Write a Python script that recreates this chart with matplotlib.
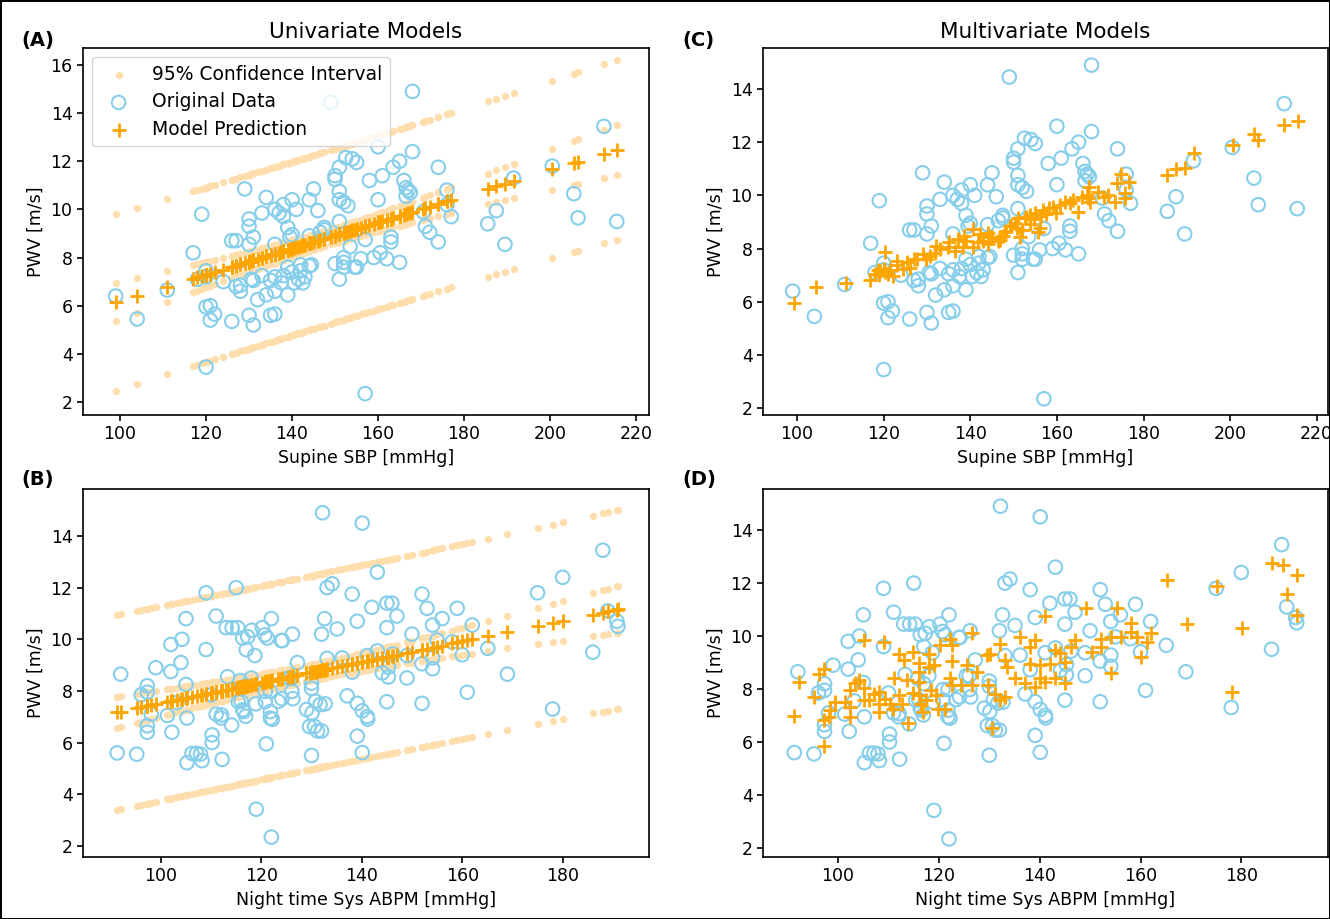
import numpy as np
import matplotlib
matplotlib.use('Agg')
import matplotlib.pyplot as plt

# Supine SBP [mmHg] and PWV [m/s] for each subject (top row)
sbp = [99, 104, 111, 117, 118, 119, 120, 120, 120, 121,
       122, 121, 126, 124, 127, 128, 130, 131, 131, 132,
       134, 135, 136, 136, 133, 135, 136, 137.5, 139, 138,
       140.5, 142.5, 143, 144, 142, 140, 139, 129, 134, 133,
       130, 130, 131, 130, 126, 127, 136, 137, 138, 138,
       140, 141, 139, 140, 136, 144, 145, 146, 144, 149,
       168, 160, 168, 152.5, 154, 155, 165, 163.5, 174, 151,
       150, 150, 158, 161, 166, 151, 166.5, 167, 167.5, 166.5,
       176, 160, 151, 152, 153, 176, 177, 170.5, 151, 147.5,
       146.5, 171, 172, 174, 163, 163, 157, 153.5, 152, 152,
       152, 150, 154.5, 156, 159, 160.5, 162, 165, 151, 157,
       185.5, 187.5, 189.5, 191.5, 200.5, 205.5, 206.5, 212.5, 215.5, 139.5,
       147.5, 155, 142, 141.5, 144.5, 130.5, 128, 120]
pwv_sbp = [6.4, 5.45, 6.65, 8.2, 7.1, 9.8, 3.45, 7.45, 5.95, 6.0,
           5.65, 5.4, 5.35, 7.0, 6.8, 6.6, 5.6, 5.2, 7.05, 6.25,
           6.45, 5.6, 5.65, 6.6, 7.25, 7.05, 7.2, 6.95, 6.45, 7.25,
           6.95, 6.95, 7.2, 7.65, 7.45, 7.4, 7.6, 10.85, 10.5, 9.85,
           9.6, 9.3, 8.85, 8.55, 8.7, 8.7, 10.0, 9.85, 10.2, 9.7,
           10.4, 10.0, 9.25, 8.95, 8.55, 10.4, 10.85, 9.95, 8.9, 14.45,
           14.9, 12.6, 12.4, 12.15, 12.1, 11.95, 12.0, 11.75, 11.75, 11.75,
           11.4, 11.25, 11.2, 11.4, 11.2, 10.75, 10.9, 10.8, 10.7, 10.55,
           10.8, 10.4, 10.4, 10.3, 10.15, 10.2, 9.7, 9.9, 9.5, 9.25,
           9.05, 9.3, 9.05, 8.65, 8.85, 8.65, 8.75, 8.45, 8.0, 7.8,
           7.6, 7.75, 7.6, 7.95, 8.0, 8.2, 7.95, 7.8, 7.1, 2.35,
           9.4, 9.95, 8.55, 11.3, 11.8, 10.65, 9.65, 13.45, 9.5, 8.85,
           9.15, 7.6, 7.7, 7.1, 7.7, 7.1, 6.85, 7.2]

# Multivariate model prediction plotted against supine SBP
mv_sbp = [99.3, 104.3, 111.2, 116.9, 120.2, 118, 119.2, 120.3, 121.1, 122.1,
          123, 123.2, 124.5, 125.3, 126.1, 126.9, 127.7, 129.2, 129.7, 130.7,
          131.9, 132.2, 133, 134.9, 135.2, 136.4, 137.2, 138.3, 138.5, 139.1,
          140.6, 140.7, 141.8, 142.2, 143, 144.2, 144.2, 144.9, 145, 146.4,
          146.9, 147.6, 148, 148.3, 149.2, 149.5, 150.3, 150.7, 151.1, 151.4,
          151.9, 152.7, 152.9, 153.7, 153.8, 154.8, 155, 155.6, 156.1, 156.4,
          156.9, 157.6, 158.1, 159.2, 159.9, 160.7, 161.9, 163, 163.8, 164.8,
          165.8, 166.9, 167.3, 167.5, 167.7, 169.6, 170.8, 171.9, 173.4, 173.8,
          174.7, 175.7, 175.7, 176.7, 185.5, 187.6, 189.5, 191.6, 200.6, 205.6,
          206.5, 212.5, 215.6, 120, 121.5, 119, 118.6]
mv_sbp_pred = [5.95, 6.55, 6.7, 6.82, 7.88, 7.04, 7.16, 7.1, 7.04, 6.98,
               7.4, 7.55, 7.22, 7.49, 7.28, 7.61, 7.6, 7.8, 7.6, 7.73,
               7.85, 8.1, 7.98, 8.04, 8.23, 7.92, 8.35, 8.04, 8.49, 8.29,
               8.74, 8.04, 8.23, 8.56, 8.29, 8.6, 8.17, 8.42, 8.45, 8.29,
               8.33, 8.48, 8.64, 8.67, 8.83, 8.86, 8.98, 8.79, 9.14, 8.42,
               8.7, 9.14, 9.17, 8.92, 9.26, 9.11, 9.33, 8.61, 8.77, 9.24,
               9.45, 9.3, 9.51, 9.57, 9.33, 9.64, 9.76, 9.7, 9.82, 9.39,
               9.95, 10.01, 9.89, 10.33, 9.76, 10.14, 9.95, 10.01, 9.76, 10.45,
               10.8, 10.08, 9.89, 10.51, 10.76, 11.01, 11.04, 11.6, 11.9, 12.3,
               12.1, 12.65, 12.8, 7.25, 7.2, 7.0, 7.2]

# Night time systolic ABPM [mmHg] and PWV [m/s] (bottom row)
abpm = [91.3, 95.2, 92, 97.3, 97.3, 96.1, 99, 98.1, 97.3, 97.3,
        102, 102, 104.2, 104, 105, 109, 115, 111, 113, 114.2,
        115.3, 116.3, 117.3, 118.1, 120.2, 122, 121.2, 126.2, 124.2, 109,
        105, 103.2, 101.3, 102.2, 105.2, 110, 111, 112, 110.2, 110.2,
        105.2, 106.2, 107.1, 107.9, 108.2, 112.2, 113.3, 116, 116.3, 116.9,
        121, 119, 122, 122.2, 124.1, 126.3, 126, 127.2, 130.1, 131.2,
        132, 130, 132, 132.6, 132.2, 140.1, 143.1, 133.1, 134.1, 138.1,
        142, 145, 146, 147, 152, 153, 156, 159, 162, 165.1,
        169, 139.1, 135.1, 145, 150, 154.1, 155, 158, 160, 141.1,
        136.1, 133.1, 143.1, 146.2, 149, 154.1, 154.1, 152, 144.1, 145.3,
        145.3, 138.1, 149, 137.1, 139.1, 140.1, 141.1, 141.2, 145, 152,
        161, 139.1, 140.1, 188, 180, 175, 189, 191, 190.8, 186,
        178, 129.6, 130.6, 129, 130, 130, 130.8, 131.7, 132.7, 114.1,
        112.1, 115.4, 116.5, 118.9, 120.8, 120.8, 121.8, 125.4, 126.1, 121.8,
        121.8, 123.4, 117, 118.7, 120.7, 124, 115.8, 117, 118]
pwv_abpm = [5.6, 5.55, 8.65, 8.2, 7.95, 7.85, 8.9, 7.1, 6.65, 6.4,
            8.75, 9.8, 10.0, 9.1, 10.8, 11.8, 12.0, 10.9, 10.45, 10.45,
            10.45, 10.05, 10.1, 10.35, 10.45, 10.8, 10.05, 10.2, 9.95, 9.6,
            8.25, 7.55, 7.05, 6.4, 6.95, 7.85, 7.1, 6.95, 6.3, 6.0,
            5.22, 5.58, 5.58, 5.55, 5.3, 5.35, 8.55, 7.6, 7.27, 7.02,
            5.95, 3.42, 2.34, 6.9, 7.7, 7.7, 8.5, 9.1, 7.15, 6.45,
            6.45, 5.5, 10.2, 10.8, 14.9, 14.5, 12.6, 12.0, 12.15, 11.75,
            11.24, 11.4, 11.4, 10.9, 11.75, 11.2, 10.8, 11.2, 10.55, 9.65,
            8.65, 10.7, 10.4, 10.45, 10.2, 10.55, 9.97, 9.9, 9.4, 9.37,
            9.28, 9.26, 9.55, 9.43, 9.37, 9.28, 8.86, 9.05, 8.7, 8.92,
            8.54, 8.73, 8.5, 7.81, 7.52, 7.23, 7.01, 6.91, 7.58, 7.52,
            7.95, 6.25, 5.61, 13.45, 12.4, 11.8, 11.1, 10.5, 10.7, 9.5,
            7.3, 6.62, 6.62, 7.28, 8.1, 8.3, 7.6, 7.47, 7.5, 6.68,
            7.07, 7.58, 7.2, 7.5, 7.59, 7.98, 7.98, 8.5, 7.98, 7.2,
            6.95, 7.6, 9.6, 9.37, 10.17, 9.95, 8.4, 8.2, 8.5]

# Multivariate model prediction plotted against night time ABPM
mv_abpm = [91.3, 92.2, 95.2, 96.2, 97.2, 97.2, 97.2, 98.1, 98.4, 99.4,
           101.3, 102.3, 102.3, 102.3, 103.4, 104.2, 105.2, 105.2, 105.2, 106.2,
           107.2, 108.2, 108.2, 108.2, 109.1, 109.3, 110.2, 110.8, 111.1, 112.1,
           112.1, 112.7, 113.1, 113.7, 113.9, 114.9, 114.9, 116.1, 116.1, 116.1,
           116.1, 116.5, 116.8, 117.5, 118.1, 118.1, 118.5, 119.1, 119.4, 119.8,
           121.2, 120.2, 122.2, 122.5, 122.5, 122.2, 122.5, 124.4, 125.5, 126.5,
           126.5, 127.5, 129.5, 130.2, 129.8, 130.5, 131.2, 132.2, 133.1, 133.5,
           132.1, 133.1, 135.1, 136.1, 137.1, 138.1, 138.1, 139.1, 139.1, 140.1,
           140.1, 141.1, 141.1, 142.1, 143.1, 143.1, 144.1, 145.1, 145.1, 146.2,
           147.0, 149.1, 150.3, 152.1, 152.2, 154.1, 154.1, 155.3, 156.1, 158.1,
           158.1, 159.3, 160.1, 161.2, 162.1, 165.2, 169.2, 186.1, 188.2, 191.0,
           189, 191, 175.1, 180.1, 178.1]
mv_abpm_pred = [7.0, 8.25, 7.69, 8.56, 8.74, 5.86, 6.83, 6.95, 7.2, 7.51,
                7.51, 7.32, 6.95, 7.96, 8.21, 8.33, 8.02, 7.6, 9.84, 7.58,
                7.83, 7.89, 7.45, 7.14, 9.78, 7.64, 7.45, 7.26, 8.4, 9.34,
                7.77, 7.45, 9.09, 8.33, 6.7, 9.4, 7.86, 8.99, 8.65, 8.27,
                7.77, 7.45, 7.14, 7.58, 9.34, 8.84, 7.96, 8.9, 7.77, 7.26,
                7.23, 9.65, 9.9, 9.65, 9.06, 8.4, 8.14, 8.14, 8.9, 8.14,
                10.1, 8.65, 9.28, 9.34, 8.14, 6.51, 7.83, 9.71, 9.09, 8.84,
                7.58, 7.71, 8.4, 9.97, 8.21, 9.59, 8.96, 9.84, 8.08, 8.9,
                8.4, 8.27, 10.74, 8.96, 9.49, 8.4, 9.37, 9.02, 8.23, 9.59,
                9.84, 11.04, 9.4, 9.9, 9.59, 9.97, 8.61, 11.04, 9.97, 10.5,
                10.17, 9.97, 9.21, 9.78, 10.1, 12.1, 10.47, 12.77, 12.68, 12.3,
                11.6, 10.8, 11.9, 10.3, 7.89]

CI_COLOR = 'navajowhite'
DATA_COLOR = 'skyblue'
PRED_COLOR = 'orange'


def linear_fit_bands(x, y, t=1.976):
    # ordinary least squares with confidence band of the mean and prediction band
    x = np.asarray(x, float)
    y = np.asarray(y, float)
    slope, intercept = np.polyfit(x, y, 1)
    fit = intercept + slope * x
    n = len(x)
    s = np.sqrt(np.sum((y - fit) ** 2) / (n - 2))
    sxx = np.sum((x - x.mean()) ** 2)
    lev = 1.0 / n + (x - x.mean()) ** 2 / sxx
    ci = t * s * np.sqrt(lev)
    pi = t * s * np.sqrt(1 + lev)
    return fit, ci, pi


def plot_univariate(ax, x, y, legend=False):
    fit, ci, pi = linear_fit_bands(x, y)
    for k, band in enumerate([fit + pi, fit + ci, fit - ci, fit - pi]):
        ax.scatter(x, band, s=28, color=CI_COLOR, linewidths=0, zorder=1,
                   label='95% Confidence Interval' if k == 0 else None)
    ax.scatter(x, y, s=95, facecolors='none', edgecolors=DATA_COLOR,
               linewidths=1.5, zorder=2, label='Original Data')
    ax.scatter(x, fit, s=90, marker='+', color=PRED_COLOR, linewidths=2,
               zorder=3, label='Model Prediction')
    if legend:
        ax.legend(loc='upper left', fontsize=13.5, borderaxespad=0.5,
                  handletextpad=0.8, labelspacing=0.45)


def plot_multivariate(ax, x, y, px, py):
    ax.scatter(x, y, s=95, facecolors='none', edgecolors=DATA_COLOR,
               linewidths=1.5, zorder=2)
    ax.scatter(px, py, s=90, marker='+', color=PRED_COLOR, linewidths=2,
               zorder=3)


plt.rcParams['font.family'] = ['DejaVu Sans']
plt.rcParams['axes.linewidth'] = 1.2

fig = plt.figure(figsize=(13.3, 9.19), dpi=100)
fig.patch.set_edgecolor('black')
fig.patch.set_linewidth(2)

ax_a = fig.add_axes([0.0624, 0.5484, 0.4256, 0.3993])
ax_c = fig.add_axes([0.5737, 0.5484, 0.4248, 0.3993])
ax_b = fig.add_axes([0.0624, 0.0675, 0.4256, 0.4004])
ax_d = fig.add_axes([0.5737, 0.0675, 0.4248, 0.4004])

plot_univariate(ax_a, sbp, pwv_sbp, legend=True)
plot_multivariate(ax_c, sbp, pwv_sbp, mv_sbp, mv_sbp_pred)
plot_univariate(ax_b, abpm, pwv_abpm)
plot_multivariate(ax_d, abpm, pwv_abpm, mv_abpm, mv_abpm_pred)

ax_a.set_xlim(91.4, 223.0)
ax_a.set_ylim(1.46, 16.7)
ax_c.set_xlim(92.15, 222.6)
ax_c.set_ylim(1.74, 15.54)
ax_b.set_xlim(84.5, 197.2)
ax_b.set_ylim(1.57, 15.82)
ax_d.set_xlim(85.1, 197.2)
ax_d.set_ylim(1.66, 15.55)

ax_a.set_xticks(np.arange(100, 221, 20))
ax_c.set_xticks(np.arange(100, 221, 20))
ax_a.set_yticks(np.arange(2, 17, 2))
for ax in (ax_c, ax_b, ax_d):
    ax.set_yticks(np.arange(2, 15, 2))
for ax in (ax_b, ax_d):
    ax.set_xticks(np.arange(100, 181, 20))

for ax in (ax_a, ax_b, ax_c, ax_d):
    ax.tick_params(labelsize=12.5, width=1.2, length=4)
    ax.set_ylabel('PWV [m/s]', fontsize=12.5)
ax_a.set_xlabel('Supine SBP [mmHg]', fontsize=12.5)
ax_c.set_xlabel('Supine SBP [mmHg]', fontsize=12.5)
ax_b.set_xlabel('Night time Sys ABPM [mmHg]', fontsize=12.5)
ax_d.set_xlabel('Night time Sys ABPM [mmHg]', fontsize=12.5)

ax_a.set_title('Univariate Models', fontsize=15.5, pad=7)
ax_c.set_title('Multivariate Models', fontsize=15.5, pad=7)

for label, x, y in [('(A)', 0.016, 0.956), ('(C)', 0.513, 0.956),
                    ('(B)', 0.016, 0.478), ('(D)', 0.513, 0.478)]:
    fig.text(x, y, label, fontsize=14, fontweight='bold', va='center')

fig.savefig('out.png', dpi=100, edgecolor=fig.get_edgecolor())
